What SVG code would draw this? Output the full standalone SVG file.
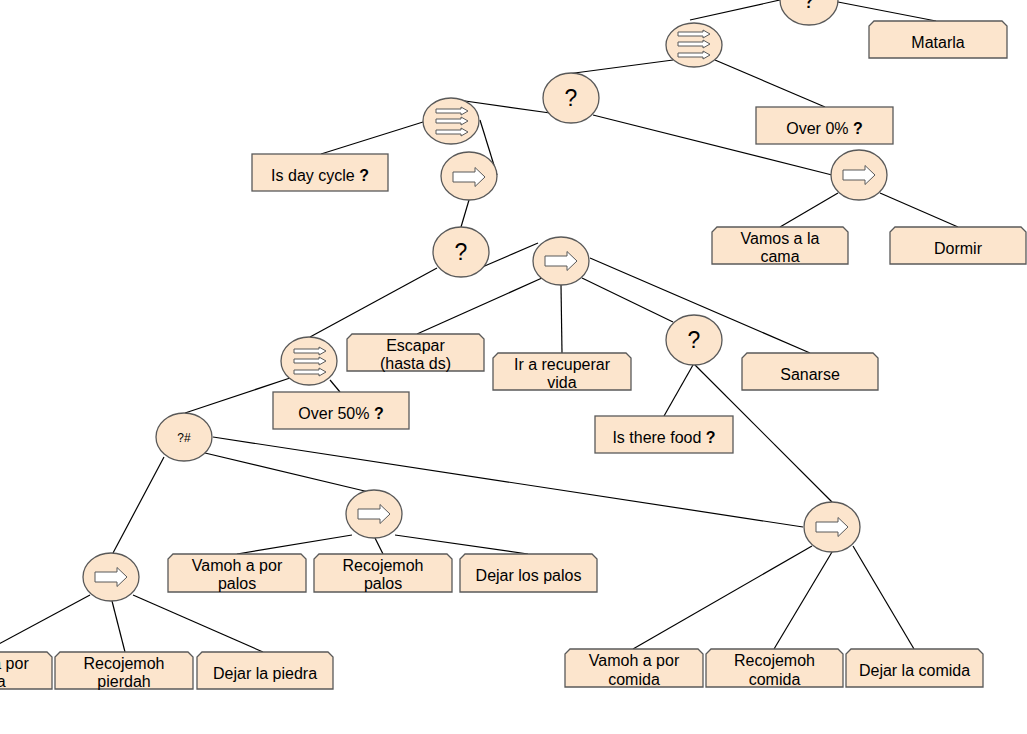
<svg xmlns="http://www.w3.org/2000/svg" xmlns:xlink="http://www.w3.org/1999/xlink" width="1027" height="734" viewBox="0 0 1027 734">
<style>
.n{fill:#fce5cd;stroke:#595959;stroke-width:1.3}
.b{fill:#fce5cd;stroke:#595959;stroke-width:1.3}
.ic{fill:#ffffff;stroke:#595959;stroke-width:1}
.c{stroke:#000;stroke-width:1.2;fill:none}
text{font-family:"Liberation Sans",Arial,sans-serif;font-size:16px;fill:#000;text-anchor:middle}
.q{font-size:23px}
.s{font-size:12px}
.bd{font-weight:bold}
</style>
<defs>
<path id="seq" class="ic" d="M-16,-5 H6 V-9.5 L16,0 L6,9.5 V5 H-16 Z"/>
<g id="par">
<path class="ic" d="M-16,-12 H9 V-14 L16,-10 L9,-6 V-8 H-16 Z"/>
<path class="ic" d="M-16,-2 H9 V-4 L16,0 L9,4 V2 H-16 Z"/>
<path class="ic" d="M-16,9 H9 V7 L16,11 L9,15 V13 H-16 Z"/>
</g>
</defs>
<rect width="1027" height="734" fill="#ffffff"/>
<g id="connectors">
<line class="c" x1="838" y1="2" x2="936" y2="21"/>
<line class="c" x1="780" y1="0" x2="690" y2="20"/>
<line class="c" x1="673" y1="60" x2="567" y2="74"/>
<line class="c" x1="715" y1="60" x2="825" y2="107"/>
<line class="c" x1="550" y1="113" x2="458" y2="100"/>
<line class="c" x1="593" y1="115" x2="832" y2="175"/>
<line class="c" x1="423" y1="122" x2="321" y2="154"/>
<line class="c" x1="480" y1="120" x2="497" y2="175"/>
<line class="c" x1="469" y1="200" x2="461" y2="227"/>
<line class="c" x1="838" y1="193" x2="780" y2="227"/>
<line class="c" x1="880" y1="193" x2="958" y2="227"/>
<line class="c" x1="437" y1="268" x2="310" y2="337"/>
<line class="c" x1="480" y1="268" x2="538" y2="243"/>
<line class="c" x1="542" y1="278" x2="417" y2="334"/>
<line class="c" x1="561" y1="285" x2="562" y2="353"/>
<line class="c" x1="582" y1="278" x2="673" y2="322"/>
<line class="c" x1="590" y1="258" x2="810" y2="353"/>
<line class="c" x1="693" y1="365" x2="664" y2="416"/>
<line class="c" x1="695" y1="365" x2="832" y2="502"/>
<line class="c" x1="330" y1="380" x2="340" y2="392"/>
<line class="c" x1="290" y1="378" x2="185" y2="413"/>
<line class="c" x1="213" y1="437" x2="803" y2="527"/>
<line class="c" x1="205" y1="453" x2="373" y2="493"/>
<line class="c" x1="164" y1="457" x2="113" y2="553"/>
<line class="c" x1="352" y1="535" x2="237" y2="554"/>
<line class="c" x1="375" y1="538" x2="383" y2="554"/>
<line class="c" x1="395" y1="535" x2="528" y2="554"/>
<line class="c" x1="90" y1="595" x2="-16" y2="652"/>
<line class="c" x1="112" y1="601" x2="125" y2="652"/>
<line class="c" x1="133" y1="595" x2="263" y2="652"/>
<line class="c" x1="812" y1="546" x2="633" y2="649"/>
<line class="c" x1="832" y1="552" x2="774" y2="649"/>
<line class="c" x1="853" y1="546" x2="914" y2="649"/>
</g>
<g id="sel_top"><ellipse class="n" cx="809" cy="0" rx="29" ry="25"/><text class="q" x="809" y="8">?</text></g>
<g id="par_top"><ellipse class="n" cx="694" cy="45" rx="28" ry="22"/><use xlink:href="#par" x="694" y="44"/></g>
<g id="sel_2"><ellipse class="n" cx="571" cy="98" rx="28" ry="25"/><text class="q" x="571" y="106">?</text></g>
<g id="par_2"><ellipse class="n" cx="451" cy="121" rx="28" ry="23"/><use xlink:href="#par" x="452" y="121"/></g>
<g id="seq_5"><ellipse class="n" cx="469" cy="176" rx="28" ry="24"/><use xlink:href="#seq" x="469" y="177"/></g>
<g id="seq_sleep"><ellipse class="n" cx="859" cy="175" rx="28" ry="25"/><use xlink:href="#seq" x="859" y="175"/></g>
<g id="sel_7"><ellipse class="n" cx="461" cy="252" rx="28" ry="25"/><text class="q" x="461" y="260">?</text></g>
<g id="seq_8"><ellipse class="n" cx="561" cy="261" rx="28" ry="24"/><use xlink:href="#seq" x="561" y="261"/></g>
<g id="par_9"><ellipse class="n" cx="309" cy="361" rx="28" ry="24"/><use xlink:href="#par" x="310" y="361"/></g>
<g id="sel_10"><ellipse class="n" cx="694" cy="340" rx="28" ry="25"/><text class="q" x="694" y="348">?</text></g>
<g id="sel_11"><ellipse class="n" cx="184" cy="437" rx="28" ry="24"/><text class="s" x="184" y="442">?#</text></g>
<g id="seq_12"><ellipse class="n" cx="374" cy="514" rx="28" ry="24"/><use xlink:href="#seq" x="374" y="514"/></g>
<g id="seq_13"><ellipse class="n" cx="111" cy="577" rx="28" ry="24"/><use xlink:href="#seq" x="111" y="577"/></g>
<g id="seq_14"><ellipse class="n" cx="832" cy="527" rx="28" ry="25"/><use xlink:href="#seq" x="832" y="527"/></g>
<g id="cond_over0"><rect class="b" x="756" y="107" width="137" height="37"/><text x="824.5" y="134">Over 0% <tspan class="bd">?</tspan></text></g>
<g id="cond_day"><rect class="b" x="252" y="154" width="136" height="37"/><text x="320" y="181">Is day cycle <tspan class="bd">?</tspan></text></g>
<g id="cond_over50"><rect class="b" x="273" y="392" width="136" height="37"/><text x="341" y="419">Over 50% <tspan class="bd">?</tspan></text></g>
<g id="cond_food"><rect class="b" x="595" y="416" width="138" height="37"/><text x="664" y="443">Is there food <tspan class="bd">?</tspan></text></g>
<g id="act_matarla"><path class="b" d="M874,21 H1002 L1007,26 V58 H869 V26 Z"/><text x="938" y="48">Matarla</text></g>
<g id="act_vamos"><path class="b" d="M717,227 H843 L848,232 V264 H712 V232 Z"/><text x="780" y="244">Vamos a la</text><text x="780" y="262">cama</text></g>
<g id="act_dormir"><path class="b" d="M895,227 H1021 L1026,232 V264 H890 V232 Z"/><text x="958" y="254">Dormir</text></g>
<g id="act_escapar"><path class="b" d="M352,334 H479 L484,339 V371 H347 V339 Z"/><text x="415.5" y="351">Escapar</text><text x="415.5" y="369">(hasta ds)</text></g>
<g id="act_vida"><path class="b" d="M498,353 H626 L631,358 V390 H493 V358 Z"/><text x="562" y="370">Ir a recuperar</text><text x="562" y="388">vida</text></g>
<g id="act_sanarse"><path class="b" d="M747,353 H873 L878,358 V390 H742 V358 Z"/><text x="810" y="380">Sanarse</text></g>
<g id="act_vpalos"><path class="b" d="M173,554 H301 L306,559 V592 H168 V559 Z"/><text x="237" y="571">Vamoh a por</text><text x="237" y="589">palos</text></g>
<g id="act_rpalos"><path class="b" d="M319,554 H447 L452,559 V592 H314 V559 Z"/><text x="383" y="571">Recojemoh</text><text x="383" y="589">palos</text></g>
<g id="act_dpalos"><path class="b" d="M465,554 H592 L597,559 V592 H460 V559 Z"/><text x="528.5" y="581">Dejar los palos</text></g>
<g id="act_vpiedra"><path class="b" d="M-80,652 H47 L52,657 V689 H-85 V657 Z"/><text x="-16.5" y="669">Vamoh a por</text><text x="-16.5" y="687">piedra</text></g>
<g id="act_rpiedra"><path class="b" d="M60,652 H188 L193,657 V689 H55 V657 Z"/><text x="124" y="669">Recojemoh</text><text x="124" y="687">pierdah</text></g>
<g id="act_dpiedra"><path class="b" d="M202,652 H328 L333,657 V689 H197 V657 Z"/><text x="265" y="679">Dejar la piedra</text></g>
<g id="act_vcomida"><path class="b" d="M570,649 H698 L703,654 V687 H565 V654 Z"/><text x="634" y="666">Vamoh a por</text><text x="634" y="685">comida</text></g>
<g id="act_rcomida"><path class="b" d="M711,649 H838 L843,654 V687 H706 V654 Z"/><text x="774.5" y="666">Recojemoh</text><text x="774.5" y="685">comida</text></g>
<g id="act_dcomida"><path class="b" d="M851,649 H978 L983,654 V687 H846 V654 Z"/><text x="914.5" y="676">Dejar la comida</text></g>
</svg>
